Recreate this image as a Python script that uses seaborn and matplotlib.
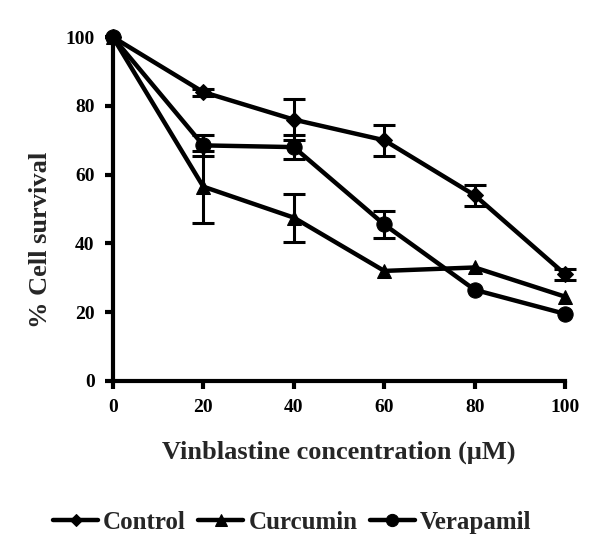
import pandas as pd
import numpy as np
import matplotlib
matplotlib.use("Agg")
import matplotlib.pyplot as plt
import seaborn as sb

# data
conc = [0, 20, 40, 60, 80, 100]
control = [100, 84, 76, 70, 54, 31]
control_err = [0, 1, 6, 4.5, 3, 1.5]
curcumin = [100, 56.5, 47.5, 32, 33, 24.5]
curcumin_err = [0, 10.5, 7, 0, 0, 0]
verapamil = [100, 68.5, 68, 45.5, 26.5, 19.5]
verapamil_err = [0, 3, 3.5, 4, 0, 0]

series = ["Control", "Curcumin", "Verapamil"]
markers = {"Control": "D", "Curcumin": "^", "Verapamil": "o"}
sizes = {"Control": 8, "Curcumin": 10, "Verapamil": 11}

df = pd.DataFrame({
    "conc": conc * 3,
    "survival": control + curcumin + verapamil,
    "err": control_err + curcumin_err + verapamil_err,
    "group": np.repeat(series, len(conc)),
})

sb.set_style("white")
plt.rcParams["font.family"] = ["Liberation Serif", "DejaVu Serif"]
plt.rcParams["font.weight"] = "bold"

fig = plt.figure(figsize=(6, 5.45), dpi=100)
ax = fig.add_axes([0.188, 0.301, 0.754, 0.631])

for g in series:
    sub = df[(df.group == g) & (df.err > 0)]
    ax.errorbar(sub.conc, sub.survival, yerr=sub.err, fmt="none", ecolor="black",
                elinewidth=2.2, capsize=8, capthick=2.2, clip_on=False, zorder=2)
    sb.lineplot(data=df[df.group == g], x="conc", y="survival", ax=ax, color="black", lw=3.2,
                marker=markers[g], markersize=sizes[g], markeredgecolor="black",
                label=g, clip_on=False, zorder=3)

ax.set_xlim(0, 100)
ax.set_ylim(0, 100)
ax.set_xticks(conc)
ax.set_yticks([0, 20, 40, 60, 80, 100])
for s in ["top", "right"]:
    ax.spines[s].set_visible(False)
for s in ["left", "bottom"]:
    ax.spines[s].set_linewidth(3)
    ax.spines[s].set_color("black")
ax.tick_params(direction="out", length=6, width=3, labelsize=14, pad=7,
               left=True, bottom=True, colors="black")
for lab in ax.get_xticklabels() + ax.get_yticklabels():
    lab.set_fontweight("bold")

ax.set_xlabel("Vinblastine concentration (\u03bcM)", fontsize=19, fontweight="bold", labelpad=18)
ax.set_ylabel("% Cell survival", fontsize=19, fontweight="bold")
ax.yaxis.set_label_coords(-0.135, 0.41)

handles, labels = ax.get_legend_handles_labels()
ax.legend_.remove()
fig.legend(handles, labels, loc="center", bbox_to_anchor=(0.487, 0.042), ncol=3,
           frameon=False, prop={"size": 18, "weight": "bold"},
           handlelength=1.8, handletextpad=0.2, columnspacing=0.5, markerscale=0.8)

fig.savefig("out.png", dpi=100)
